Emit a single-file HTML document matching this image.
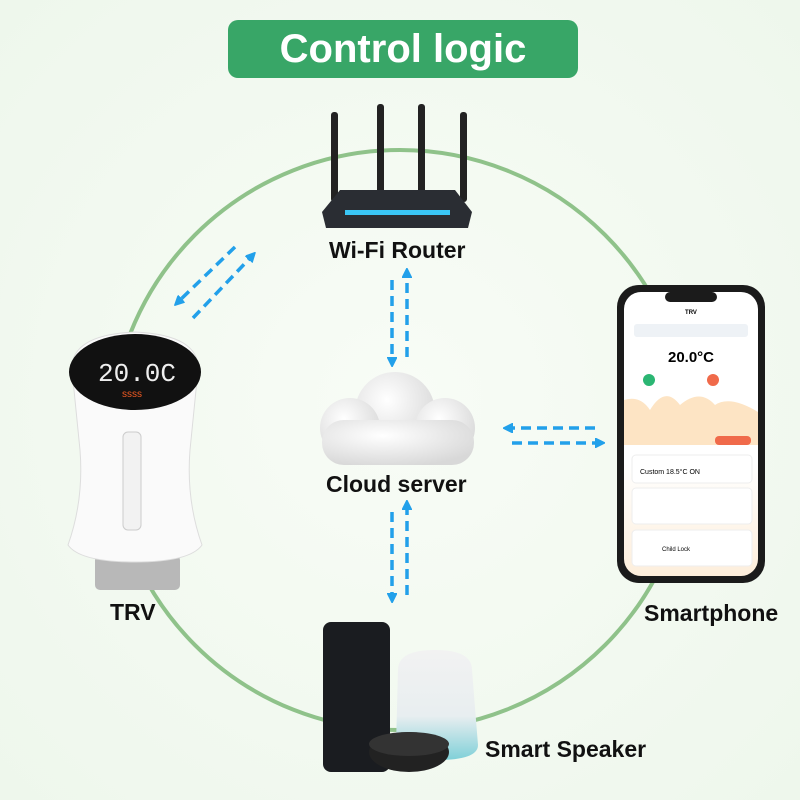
<!DOCTYPE html>
<html><head><meta charset="utf-8"><style>
body{margin:0;width:800px;height:800px;overflow:hidden;background:radial-gradient(ellipse at center,#f8fcf6 0%,#eef7ec 100%);font-family:"Liberation Sans",sans-serif;position:relative}
.lbl{position:absolute;font-weight:bold;font-size:23px;color:#111;white-space:nowrap}
</style></head><body>
<svg width="800" height="800" style="position:absolute;left:0;top:0">
<defs>
<marker id="ah" markerWidth="10" markerHeight="10" refX="5" refY="5" orient="auto" markerUnits="userSpaceOnUse"><path d="M0,0 L10,5 L0,10 z" fill="#22a0ea" transform="scale(1.4) translate(-2,-1.5)"/></marker>
<linearGradient id="sc" x1="0" y1="0" x2="0" y2="1"><stop offset="0" stop-color="#fff"/><stop offset="0.6" stop-color="#fff"/><stop offset="1" stop-color="#fdeedb"/></linearGradient>
<radialGradient id="cl" cx="0.4" cy="0.35" r="0.7"><stop offset="0" stop-color="#fff"/><stop offset="1" stop-color="#d8d8d8"/></radialGradient>
<linearGradient id="gh" x1="0" y1="0" x2="0" y2="1"><stop offset="0" stop-color="#f2f2f2"/><stop offset="0.6" stop-color="#e8eef0"/><stop offset="1" stop-color="#7fd0d8"/></linearGradient>
</defs>
<circle cx="400" cy="440" r="290" fill="none" stroke="#8fc28a" stroke-width="4"/>
<rect x="228" y="20" width="350" height="58" rx="10" fill="#38a667"/>
<text x="403" y="62" text-anchor="middle" font-family="Liberation Sans" font-weight="bold" font-size="40" fill="#fff">Control logic</text>
<g stroke="#22a0ea" stroke-width="3.5" stroke-dasharray="10,6" fill="none">
<line x1="235" y1="247" x2="178" y2="302" marker-end="url(#ah)"/>
<line x1="193" y1="318" x2="252" y2="256" marker-end="url(#ah)"/>
<line x1="392" y1="280" x2="392" y2="362" marker-end="url(#ah)"/>
<line x1="407" y1="357" x2="407" y2="273" marker-end="url(#ah)"/>
<line x1="595" y1="428" x2="508" y2="428" marker-end="url(#ah)"/>
<line x1="512" y1="443" x2="600" y2="443" marker-end="url(#ah)"/>
<line x1="392" y1="512" x2="392" y2="598" marker-end="url(#ah)"/>
<line x1="407" y1="595" x2="407" y2="505" marker-end="url(#ah)"/>
</g>
<g fill="#222">
<rect x="331" y="112" width="7" height="90" rx="3"/><rect x="377" y="104" width="7" height="95" rx="3"/>
<rect x="418" y="104" width="7" height="95" rx="3"/><rect x="460" y="112" width="7" height="90" rx="3"/>
<path d="M322,212 L340,190 L455,190 L472,212 L468,228 L326,228 Z" fill="#2a2d33"/>
<rect x="345" y="210" width="105" height="5" fill="#3ac6f5"/>
</g>
<g fill="url(#cl)">
<circle cx="395" cy="412" r="40"/><circle cx="350" cy="428" r="30"/><circle cx="445" cy="428" r="30"/>
<rect x="322" y="420" width="152" height="45" rx="22"/>
</g>
<rect x="95" y="555" width="85" height="35" rx="5" fill="#b8b8b8"/>
<path d="M72,370 Q70,335 135,332 Q200,335 198,370 L190,450 Q186,500 202,545 Q190,562 135,562 Q80,562 68,545 Q84,500 80,450 Z" fill="#fafafa" stroke="#ddd"/>
<ellipse cx="135" cy="372" rx="66" ry="38" fill="#111"/>
<text x="137" y="381" text-anchor="middle" font-family="Liberation Mono" font-size="26" fill="#eee">20.0C</text>
<text x="132" y="397" text-anchor="middle" font-size="10" fill="#f05a22">ssss</text>
<rect x="123" y="432" width="18" height="98" rx="5" fill="#f2f2f2" stroke="#ccc"/>
<rect x="617" y="285" width="148" height="298" rx="22" fill="#1b1b1b"/>
<rect x="624" y="292" width="134" height="284" rx="17" fill="url(#sc)"/>
<rect x="665" y="292" width="52" height="10" rx="5" fill="#1b1b1b"/>
<text x="691" y="314" text-anchor="middle" font-size="6" font-weight="bold">TRV</text>
<rect x="634" y="324" width="114" height="13" rx="3" fill="#eef2f6"/>
<text x="691" y="362" text-anchor="middle" font-size="15" font-weight="bold">20.0°C</text>
<circle cx="649" cy="380" r="6" fill="#2bb673"/><circle cx="713" cy="380" r="6" fill="#f06a4a"/>
<path d="M624,400 Q640,395 650,410 Q665,385 680,405 Q700,388 715,405 Q730,395 758,412 L758,445 L624,445 Z" fill="#fde4c4"/>
<rect x="715" y="436" width="36" height="9" rx="4" fill="#f06a4a"/>
<rect x="632" y="455" width="120" height="28" rx="4" fill="#fff" stroke="#eee"/>
<text x="640" y="474" font-size="7">Custom   18.5°C   ON</text>
<rect x="632" y="488" width="120" height="36" rx="4" fill="#fff" stroke="#eee"/>
<rect x="632" y="530" width="120" height="36" rx="4" fill="#fff" stroke="#eee"/>
<text x="662" y="551" font-size="6">Child Lock</text>
<rect x="323" y="622" width="67" height="150" rx="8" fill="#1a1c20"/>
<path d="M398,670 Q398,650 435,650 Q472,650 472,670 L478,745 Q478,760 437,760 Q396,760 396,745 Z" fill="url(#gh)"/>
<ellipse cx="409" cy="752" rx="40" ry="20" fill="#222"/>
<ellipse cx="409" cy="744" rx="40" ry="12" fill="#333"/>
</svg>
<div class="lbl" style="left:329px;top:237px">Wi-Fi Router</div>
<div class="lbl" style="left:326px;top:471px">Cloud server</div>
<div class="lbl" style="left:110px;top:599px">TRV</div>
<div class="lbl" style="left:644px;top:600px">Smartphone</div>
<div class="lbl" style="left:485px;top:736px">Smart Speaker</div>
</body></html>
